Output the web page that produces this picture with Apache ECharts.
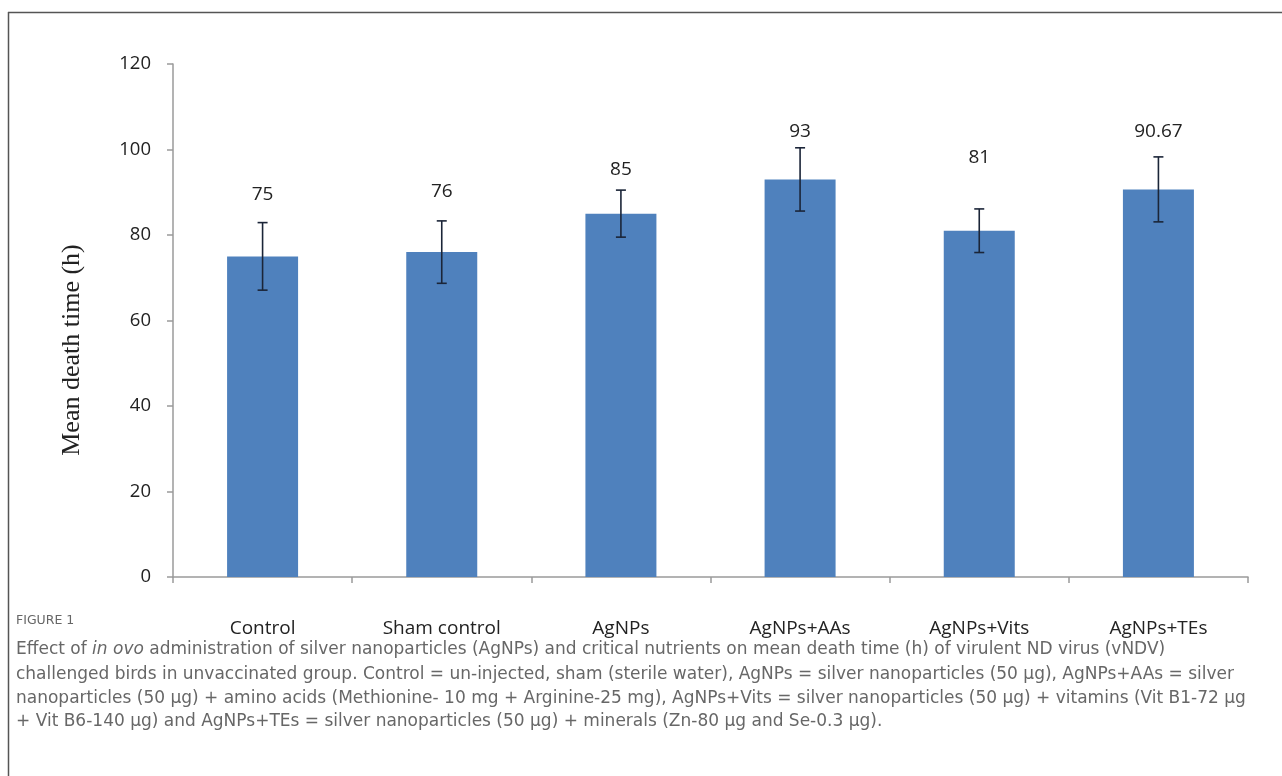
<!DOCTYPE html>
<html>
<head>
<meta charset="utf-8">
<script src="https://cdn.jsdelivr.net/npm/echarts@6/dist/echarts.min.js"></script>
<style>
html,body{margin:0;padding:0;background:#fff;}
#main{width:1282px;height:776px;}
</style>
</head>
<body>
<div id="main"></div>
<script>
var categories = ['Control', 'Sham control', 'AgNPs', 'AgNPs+AAs', 'AgNPs+Vits', 'AgNPs+TEs'];
var meanValues = [75, 76, 85, 93, 81, 90.67];
var errorValues = [7.9, 7.3, 5.5, 7.4, 5.1, 7.6];
var valueLabels = ['75', '76', '85', '93', '81', '90.67'];
var labelHeights = [89.4, 90.2, 95.4, 104.2, 98.2, 104.2];
var yTicks = [0, 20, 40, 60, 80, 100, 120];
var yAxisTitle = 'Mean death time (h)';

var chart = echarts.init(document.getElementById('main'));

var errData = meanValues.map(function (v, i) { return [i, v - errorValues[i], v + errorValues[i]]; });
var lblData = labelHeights.map(function (h, i) { return [i, h]; });
var capFont = '17px "DejaVu Sans"';
var capColor = '#676767';

var option = {
  animation: false,
  backgroundColor: '#fff',
  grid: { left: 173, right: 34, top: 64, bottom: 199, containLabel: false },
  xAxis: {
    type: 'category',
    data: categories,
    axisLine: { lineStyle: { color: '#9a9a9a', width: 1.5 } },
    axisTick: { show: true, length: 6, lineStyle: { color: '#9a9a9a', width: 1.5 } },
    axisLabel: { color: '#222', fontSize: 19, fontFamily: 'Open Sans', margin: 42 }
  },
  yAxis: {
    type: 'value',
    min: yTicks[0], max: yTicks[yTicks.length - 1], interval: 20,
    axisLine: { show: true, lineStyle: { color: '#9a9a9a', width: 1.5 } },
    axisTick: { show: true, length: 6, lineStyle: { color: '#9a9a9a', width: 1.5 } },
    splitLine: { show: false },
    axisLabel: { color: '#222', fontSize: 18.5, fontFamily: 'Open Sans', margin: 22 }
  },
  series: [
    {
      type: 'bar',
      data: meanValues,
      barWidth: 71,
      itemStyle: { color: '#4F81BD' }
    },
    {
      type: 'custom',
      data: errData,
      z: 5,
      renderItem: function (params, api) {
        var x = api.value(0);
        var lo = api.coord([x, api.value(1)]);
        var hi = api.coord([x, api.value(2)]);
        var cw = 5;
        var st = { stroke: '#1b2538', lineWidth: 1.6 };
        return {
          type: 'group',
          children: [
            { type: 'line', shape: { x1: hi[0], y1: hi[1], x2: lo[0], y2: lo[1] }, style: st },
            { type: 'line', shape: { x1: hi[0] - cw, y1: hi[1], x2: hi[0] + cw, y2: hi[1] }, style: st },
            { type: 'line', shape: { x1: lo[0] - cw, y1: lo[1], x2: lo[0] + cw, y2: lo[1] }, style: st }
          ]
        };
      }
    },
    {
      type: 'custom',
      data: lblData,
      z: 6,
      renderItem: function (params, api) {
        var p = api.coord([api.value(0), api.value(1)]);
        return {
          type: 'text',
          style: {
            x: p[0], y: p[1],
            text: valueLabels[params.dataIndex],
            fill: '#222',
            font: '19px "Open Sans"',
            textAlign: 'center',
            textVerticalAlign: 'middle'
          }
        };
      }
    }
  ],
  graphic: [
    { type: 'line', shape: { x1: 8, y1: 12.5, x2: 1282, y2: 12.5 }, style: { stroke: '#555', lineWidth: 1.5 } },
    { type: 'line', shape: { x1: 8.5, y1: 12, x2: 8.5, y2: 776 }, style: { stroke: '#555', lineWidth: 1.5 } },
    { type: 'text', x: 72, y: 350, rotation: Math.PI / 2, style: {
        text: yAxisTitle, font: '26px "Liberation Serif"', fill: '#222',
        textAlign: 'center', textVerticalAlign: 'middle' } },
    { type: 'text', left: 16, top: 614, style: { text: 'FIGURE 1', font: '12.5px "DejaVu Sans"', fill: '#666' } },
    { type: 'text', left: 16, top: 641, style: {
        rich: {
          n: { font: capFont, fill: capColor },
          i: { font: 'italic ' + capFont, fill: capColor }
        },
        text: '{n|Effect of }{i|in ovo}{n| administration of silver nanoparticles (AgNPs) and critical nutrients on mean death time (h) of virulent ND virus (vNDV)}'
    } },
    { type: 'text', left: 16, top: 666, style: { text: 'challenged birds in unvaccinated group. Control = un-injected, sham (sterile water), AgNPs = silver nanoparticles (50 \u03bcg), AgNPs+AAs = silver', font: capFont, fill: capColor } },
    { type: 'text', left: 16, top: 690, style: { text: 'nanoparticles (50 \u03bcg) + amino acids (Methionine- 10 mg + Arginine-25 mg), AgNPs+Vits = silver nanoparticles (50 \u03bcg) + vitamins (Vit B1-72 \u03bcg', font: capFont, fill: capColor } },
    { type: 'text', left: 16, top: 713, style: { text: '+ Vit B6-140 \u03bcg) and AgNPs+TEs = silver nanoparticles (50 \u03bcg) + minerals (Zn-80 \u03bcg and Se-0.3 \u03bcg).', font: capFont, fill: capColor } }
  ]
};
chart.setOption(option);
</script>
</body>
</html>
